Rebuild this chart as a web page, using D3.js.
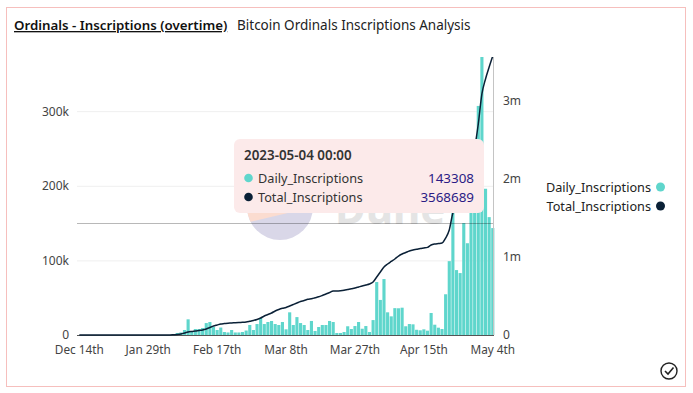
<!DOCTYPE html>
<html>
<head>
<meta charset="utf-8">
<script src="https://cdn.jsdelivr.net/npm/d3@7"></script>
<style>
html, body { margin: 0; padding: 0; background: #fff; }
svg { display: block; }
text { font-family: "Noto Sans", sans-serif; }
</style>
</head>
<body>
<div id="container"></div>
<script>
var width = 693,
    height = 393;

// values, one per bar
var daily = [
    0, 0, 0, 0, 0, 0, 0, 0, 0, 0, 0, 0, 0,
    0, 0, 0, 0, 0, 0, 0, 0, 0, 0, 0, 0, 0,
    1.3, 2.7, 3.4, 6.7, 21, 4, 8, 8, 9.4, 16, 17.4, 10.7, 6.7, 10,
    4, 3.4, 6.7, 3.4, 3.4, 4, 6, 13.4, 6.7, 14.7, 22.8, 14.7, 17.4,
    18.8, 14.7, 13.4, 17.4, 7.6, 30.4, 13.4, 24, 16, 13.4, 6.7, 18.8, 5.4,
    10.7, 13.4, 13.4, 18.8, 17.4, 2.7, 2.7, 4, 11.7, 8, 12, 17.4, 8.4, 12, 4, 20,
    71, 47, 75, 30.4, 25, 36, 35.8, 36.6, 11.7, 14.7, 14.3, 7, 6.3, 7.6, 5.8,
    29.5, 13.8, 9.8, 8, 54.6, 99, 170, 87, 83, 150, 123, 188, 205, 307, 395,
    196, 158, 143.308
];
var total = [
    0, 0, 0, 0, 0, 0, 0, 0, 0, 0, 0, 0, 0,
    0, 0, 0, 0, 0, 0, 0, 0, 0, 0, 0, 0, 0,
    3, 6, 13, 26, 38, 45, 51, 58, 64, 77, 96, 115, 128, 141,
    146, 151, 153, 157, 160, 162, 166, 175, 185, 198, 217, 243, 262,
    281, 307, 326, 341, 352, 371, 390, 409, 428, 441, 457, 464, 476,
    488, 505, 524, 543, 563, 563, 566, 572, 582, 592, 601, 614, 627, 639, 652, 678,
    742, 806, 870, 908, 940, 972, 1010, 1036, 1055, 1074, 1087, 1096, 1106, 1113, 1121,
    1151, 1164, 1170, 1176, 1240, 1343, 1560, 1637, 1714, 1854, 2008, 2187, 2391, 2698, 3082,
    3274, 3427, 3568.689
];

var xTickIndex = [0, 19, 38, 57, 76, 95, 114];
var xTickLabels = ["Dec 14th", "Jan 29th", "Feb 17th", "Mar 8th", "Mar 27th", "Apr 15th", "May 4th"];
var leftTicks = [0, 100, 200, 300];
var rightTicks = [0, 1000, 2000, 3000];
var seriesNames = ["Daily_Inscriptions", "Total_Inscriptions"];
var seriesColors = ["#5fd6cc", "#0a2036"];
var tooltipDate = "2023-05-04 00:00";
var tooltipValues = ["143308", "3568689"];

var svg = d3.select("#container").append("svg")
    .attr("width", width)
    .attr("height", height);

var x = d3.scaleBand()
    .domain(d3.range(daily.length))
    .range([77.5, 494.6])
    .paddingInner(0.14)
    .paddingOuter(0.07);

var yLeft = d3.scaleLinear().domain([0, 372.6]).range([335, 57]);
var yRight = d3.scaleLinear().domain([0, 3555]).range([335, 57]);

// frame
svg.append("rect")
    .attr("x", 6.5).attr("y", 7.5)
    .attr("width", 679).attr("height", 379)
    .attr("fill", "#fff")
    .attr("stroke", "#f6bfbd");

// titles
svg.append("text")
    .attr("x", 14).attr("y", 30)
    .attr("font-size", 13.3)
    .attr("font-weight", 600)
    .attr("fill", "#111")
    .attr("text-decoration", "underline")
    .text("Ordinals - Inscriptions (overtime)");
svg.append("text")
    .attr("x", 237).attr("y", 30)
    .attr("font-size", 13.5)
    .attr("fill", "#222")
    .text("Bitcoin Ordinals Inscriptions Analysis");

svg.append("clipPath").attr("id", "plot")
    .append("rect").attr("x", 70).attr("y", 57).attr("width", 430).attr("height", 280);

// grid
svg.append("g").selectAll("line")
    .data(leftTicks.slice(1))
    .enter().append("line")
    .attr("x1", 77).attr("x2", 494)
    .attr("y1", d => yLeft(d) + 0.5).attr("y2", d => yLeft(d) + 0.5)
    .attr("stroke", "#efefef");

// watermark
var mark = svg.append("g");
mark.append("circle").attr("cx", 280).attr("cy", 207).attr("r", 33).attr("fill", "#d9d7e8");
mark.append("path")
    .attr("d", "M250.5,221.7 A33,33 0 1 1 313,207 Z")
    .attr("fill", "#fbdcd0");
mark.append("text")
    .attr("x", 335).attr("y", 223.5)
    .attr("font-size", 42)
    .attr("font-weight", 700)
    .attr("fill", "#e4e4e4")
    .text("Dune");

// x axis
var xAxis = d3.axisBottom(x)
    .tickValues(xTickIndex)
    .tickSize(0)
    .tickPadding(11)
    .tickFormat((d, i) => xTickLabels[i]);
var gx = svg.append("g")
    .attr("transform", "translate(0,335)")
    .call(xAxis);
gx.select(".domain").attr("stroke", "#555").attr("d", "M77,0.5H494");
gx.selectAll("text").attr("font-size", 11.8).attr("fill", "#444")
    .attr("font-family", '"Noto Sans", sans-serif');

// left axis
var gl = svg.append("g")
    .attr("transform", "translate(77,0)")
    .call(d3.axisLeft(yLeft).tickValues(leftTicks).tickSize(0).tickPadding(8)
        .tickFormat(d => d === 0 ? "0" : d + "k"));
gl.select(".domain").remove();
gl.selectAll("text").attr("font-size", 12).attr("fill", "#444")
    .attr("font-family", '"Noto Sans", sans-serif');

// right axis
var gr = svg.append("g")
    .attr("transform", "translate(493,0)")
    .call(d3.axisRight(yRight).tickValues(rightTicks).tickSize(0).tickPadding(10)
        .tickFormat(d => d === 0 ? "0" : (d / 1000) + "m"));
gr.select(".domain").remove();
gr.selectAll("text").attr("font-size", 12).attr("fill", "#444")
    .attr("font-family", '"Noto Sans", sans-serif');

// bars
svg.append("g").attr("clip-path", "url(#plot)")
    .selectAll("rect")
    .data(daily)
    .enter().append("rect")
    .attr("x", (d, i) => x(i))
    .attr("width", x.bandwidth())
    .attr("y", d => yLeft(d))
    .attr("height", d => 335 - yLeft(d))
    .attr("fill", seriesColors[0]);

// crosshair
svg.append("line")
    .attr("x1", 77).attr("x2", 493)
    .attr("y1", 223.5).attr("y2", 223.5)
    .attr("stroke", "#000").attr("stroke-opacity", 0.28);
svg.append("line")
    .attr("x1", 493.5).attr("x2", 493.5)
    .attr("y1", 57).attr("y2", 335)
    .attr("stroke", "#c4c4c4");

// total line
var line = d3.line()
    .x((d, i) => x(i) + x.bandwidth() / 2)
    .y(d => yRight(d))
    .curve(d3.curveMonotoneX);
svg.append("path").attr("clip-path", "url(#plot)")
    .attr("d", line(total))
    .attr("fill", "none")
    .attr("stroke", seriesColors[1])
    .attr("stroke-width", 1.5);

// legend on the right
var legend = svg.append("g").selectAll("g")
    .data(seriesNames)
    .enter().append("g")
    .attr("transform", (d, i) => "translate(0," + (187 + i * 19) + ")");
legend.append("text")
    .attr("x", 651).attr("y", 4.5)
    .attr("text-anchor", "end")
    .attr("font-size", 12.7)
    .attr("fill", "#222")
    .text(d => d);
legend.append("circle")
    .attr("cx", 660.5).attr("cy", 0).attr("r", 4.5)
    .attr("fill", (d, i) => seriesColors[i]);

// tooltip
var tip = svg.append("g");
tip.append("rect")
    .attr("x", 234).attr("y", 139)
    .attr("width", 250).attr("height", 74)
    .attr("rx", 6)
    .attr("fill", "#fceaea");
tip.append("text")
    .attr("x", 244).attr("y", 160)
    .attr("font-size", 13.4)
    .attr("font-weight", 600)
    .attr("fill", "#333")
    .text(tooltipDate);
var row = tip.selectAll(".row")
    .data(seriesNames)
    .enter().append("g")
    .attr("class", "row")
    .attr("transform", (d, i) => "translate(0," + (178 + i * 19) + ")");
row.append("circle")
    .attr("cx", 248.5).attr("cy", 0).attr("r", 4.3)
    .attr("fill", (d, i) => seriesColors[i]);
row.append("text")
    .attr("x", 258).attr("y", 4.5)
    .attr("font-size", 12.7)
    .attr("fill", "#333")
    .text(d => d);
row.append("text")
    .attr("x", 474).attr("y", 4.5)
    .attr("text-anchor", "end")
    .attr("font-size", 13.4)
    .attr("fill", "#2b1b85")
    .text((d, i) => tooltipValues[i]);

// check icon
svg.append("circle")
    .attr("cx", 669).attr("cy", 371).attr("r", 8)
    .attr("fill", "none").attr("stroke", "#222").attr("stroke-width", 1.4);
svg.append("path")
    .attr("d", "M665,371 L668,374 L673.5,367.5")
    .attr("fill", "none").attr("stroke", "#222").attr("stroke-width", 1.6);
</script>
</body>
</html>
